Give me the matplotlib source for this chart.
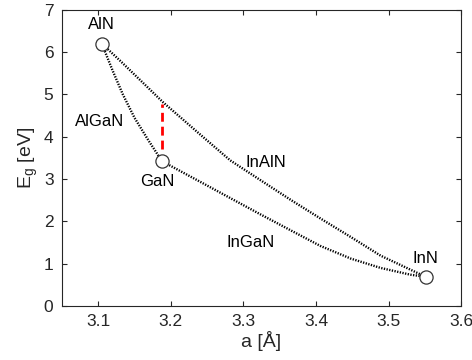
import numpy as np
import matplotlib
matplotlib.use("Agg")
import matplotlib.pyplot as plt

plt.rcParams['font.family'] = ['Liberation Sans', 'DejaVu Sans']

# binary end points: lattice constant a [A], band gap Eg [eV]
names = ["AlN", "GaN", "InN"]
a_bin = [3.105, 3.188, 3.551]
eg_bin = [6.20, 3.42, 0.69]

# ternary curves
a_algan = [3.105, 3.120, 3.134, 3.150, 3.169, 3.188]
eg_algan = [6.20, 5.56, 5.00, 4.45, 3.92, 3.42]

a_inaln = [3.105, 3.130, 3.171, 3.189, 3.240, 3.282, 3.323, 3.365, 3.406, 3.448, 3.489, 3.530, 3.551]
eg_inaln = [6.20, 5.80, 5.12, 4.82, 4.06, 3.44, 2.98, 2.51, 2.07, 1.63, 1.19, 0.86, 0.69]

a_ingan = [3.188, 3.240, 3.282, 3.323, 3.365, 3.406, 3.448, 3.489, 3.530, 3.551]
eg_ingan = [3.42, 2.94, 2.55, 2.17, 1.79, 1.42, 1.12, 0.90, 0.74, 0.69]

# red marker between AlGaN and InAlN
a_red = [3.188, 3.188]
eg_red = [3.72, 4.78]

fig = plt.figure(figsize=(4.72, 3.6), dpi=100)
ax = fig.add_axes([0.131, 0.15, 0.846, 0.823])

dot = dict(color='k', linewidth=1.7, linestyle=(0, (0.55, 0.6)))
ax.plot(a_algan, eg_algan, **dot)
ax.plot(a_inaln, eg_inaln, **dot)
ax.plot(a_ingan, eg_ingan, **dot)
ax.plot(a_red, eg_red, color='red', linewidth=2, linestyle=(0, (3.2, 1.8)))
ax.plot(a_bin, eg_bin, 'o', markersize=9.5, markerfacecolor='white',
        markeredgecolor='#333333', markeredgewidth=0.9, zorder=5)

# labels
fs = 12
ax.text(3.105, 6.64, "AlN", ha='center', va='center', fontsize=fs)
ax.text(3.181, 2.93, "GaN", ha='center', va='center', fontsize=fs)
ax.text(3.551, 1.13, "InN", ha='center', va='center', fontsize=fs)
ax.text(3.102, 4.37, "AlGaN", ha='center', va='center', fontsize=fs)
ax.text(3.331, 3.38, "InAlN", ha='center', va='center', fontsize=fs)
ax.text(3.31, 1.51, "InGaN", ha='center', va='center', fontsize=fs)

ax.set_xlim(3.05, 3.6)
ax.set_ylim(0, 7)
ax.set_xticks([3.1, 3.2, 3.3, 3.4, 3.5, 3.6])
ax.set_yticks(range(0, 8))
ax.set_xlabel("a [Å]", fontsize=14, color='#262626', labelpad=1)
ax.set_ylabel("E$_\\mathregular{g}$ [eV]", fontsize=14, color='#262626', labelpad=3)

for s in ax.spines.values():
    s.set_color('#262626')
    s.set_linewidth(0.8)
ax.tick_params(direction='in', top=True, right=True, length=3.5, width=0.8,
               colors='#262626', labelsize=12.5, pad=6)

fig.savefig("out.png", dpi=100)
